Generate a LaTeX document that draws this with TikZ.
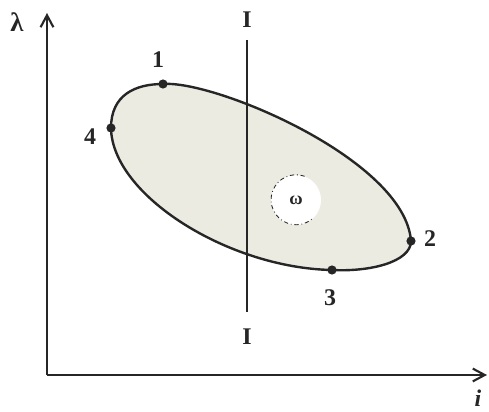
\documentclass[tikz,border=0pt]{standalone}
\usepackage{fontspec}
\setmainfont{Liberation Serif}
\usetikzlibrary{arrows.meta}
\definecolor{regiune}{HTML}{ECEBE1}
\definecolor{dark}{HTML}{262626}

\begin{document}
\begin{tikzpicture}[every node/.style={font=\fontsize{17}{20}\selectfont\bfseries,text=dark},
  axa/.style={dark,line width=1.5pt,-{Straight Barb[length=3mm,width=3.2mm]}}]
  \useasboundingbox (-1.175,-0.925) rectangle (11.05,9.375);
  % axele
  \coordinate (O) at (0,0);
  \coordinate (ycap) at (0,9.05);
  \coordinate (xcap) at (11.0,0);
  \draw[axa] (O) -- (ycap);
  \draw[axa] (O) -- (xcap);
  \node[font=\fontsize{19}{22}\selectfont\bfseries] (lam) at (-0.75,8.825) {λ};
  \node[font=\fontsize{17}{20}\selectfont\bfseries\itshape] (iax) at (10.775,-0.58) {i};
  % punctele de pe contur
  \coordinate (p1) at (2.9,7.275);
  \coordinate (p2) at (9.1,3.35);
  \coordinate (p3) at (7.125,2.625);
  \coordinate (p4) at (1.6,6.175);
  % regiunea
  \draw[dark,fill=regiune,line width=1.7pt] (p1)
    .. controls (4.2,7.375) and (8.95,5.375) .. (p2)
    .. controls (9.1,2.825) and (8.075,2.575) .. (p3)
    .. controls (4.525,2.675) and (1.625,4.5) .. (p4)
    .. controls (1.6,7.0) and (2.2,7.275) .. cycle;
  % gaura omega
  \node[circle,fill=white,minimum size=1.25cm,inner sep=0pt,font=\fontsize{13}{15}\selectfont\bfseries] (om) at (6.225,4.375) {ω};
  \draw[dark,line width=0.6pt,dash dot] (om.70) arc[start angle=70,end angle=310,radius=0.625];
  % linia I--I
  \node (Isus) at (5.0,8.875) {I};
  \node (Ijos) at (5.0,0.95) {I};
  \draw[dark,line width=2pt,shorten <=5pt,shorten >=9pt] (Isus) -- (Ijos);
  \foreach \p/\lx/\ly/\t in {p1/2.775/7.875/1, p2/9.575/3.4/2, p3/7.075/1.925/3, p4/1.075/5.95/4}{
    \fill[dark] (\p) circle (0.115);
    \node (e\t) at (\lx,\ly) {\t};
  }
\end{tikzpicture}
\end{document}
